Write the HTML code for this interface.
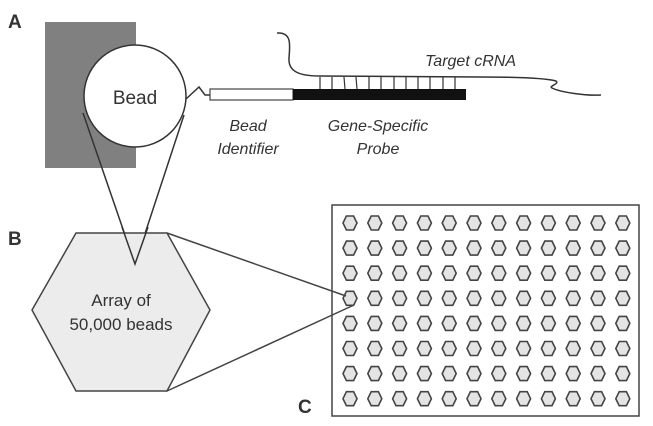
<!DOCTYPE html>
<html><head><meta charset="utf-8"><style>
html,body{margin:0;padding:0;background:#fff;}
svg{display:block;}
text{font-family:"Liberation Sans",Arial,sans-serif;fill:#333;}
</style></head><body>
<svg width="653" height="426" viewBox="0 0 653 426" xmlns="http://www.w3.org/2000/svg" xmlns:xlink="http://www.w3.org/1999/xlink">
<defs>
<polygon id="h" points="-7,0 -3.6,-7 3.6,-7 7,0 3.6,7 -3.6,7" fill="#e4e4e4" stroke="#444" stroke-width="1.6"/>
<g id="row">
<use xlink:href="#h" href="#h" x="350" y="0"/>
<use xlink:href="#h" href="#h" x="374.8" y="0"/>
<use xlink:href="#h" href="#h" x="399.6" y="0"/>
<use xlink:href="#h" href="#h" x="424.4" y="0"/>
<use xlink:href="#h" href="#h" x="449.2" y="0"/>
<use xlink:href="#h" href="#h" x="474" y="0"/>
<use xlink:href="#h" href="#h" x="498.8" y="0"/>
<use xlink:href="#h" href="#h" x="523.6" y="0"/>
<use xlink:href="#h" href="#h" x="548.4" y="0"/>
<use xlink:href="#h" href="#h" x="573.2" y="0"/>
<use xlink:href="#h" href="#h" x="598" y="0"/>
<use xlink:href="#h" href="#h" x="622.8" y="0"/>
</g>
</defs>
<rect width="653" height="426" fill="#fff"/>
<text x="8" y="28" font-size="19" font-weight="bold" fill="#222">A</text>
<text x="8" y="245" font-size="19" font-weight="bold" fill="#222">B</text>
<text x="298" y="413" font-size="19" font-weight="bold" fill="#222">C</text>
<rect x="45" y="22" width="91" height="146" fill="#808080"/>
<line x1="83" y1="113" x2="135" y2="264" stroke="#333" stroke-width="1.5"/>
<line x1="184" y1="115" x2="135" y2="264" stroke="#333" stroke-width="1.5"/>
<circle cx="135" cy="96" r="51" fill="#fff" stroke="#333" stroke-width="1.5"/>
<text x="135" y="104" font-size="19" text-anchor="middle" fill="#222">Bead</text>
<polyline points="186,99 199,87 205,95 210,95" fill="none" stroke="#333" stroke-width="1.5"/>
<rect x="210" y="89" width="83" height="11" fill="#fff" stroke="#444" stroke-width="1.2"/>
<rect x="293" y="89" width="173" height="11" fill="#111"/>
<g stroke="#333" stroke-width="1.2">
<line x1="320" y1="77" x2="320" y2="89"/><line x1="332" y1="77" x2="332" y2="89"/><line x1="344" y1="77" x2="345" y2="89"/><line x1="356" y1="77" x2="357" y2="89"/><line x1="369" y1="77" x2="369" y2="89"/><line x1="381" y1="77" x2="381" y2="89"/><line x1="394" y1="77" x2="394" y2="89"/><line x1="406" y1="77" x2="406" y2="89"/><line x1="418" y1="77" x2="418" y2="89"/><line x1="430" y1="77" x2="430" y2="89"/><line x1="443" y1="77" x2="443" y2="89"/><line x1="455" y1="77" x2="455" y2="89"/>
</g>
<path d="M277,33 C292,32 290,45 289,58 C288,72 300,76 320,76 L480,77 C520,77 545,78 556,81 C560,84 548,86 552,88 C560,92 585,96 601,95" fill="none" stroke="#333" stroke-width="1.5"/>
<text x="425" y="66" font-size="16" font-style="italic">Target cRNA</text>
<text x="248" y="131" font-size="16" font-style="italic" text-anchor="middle">Bead</text>
<text x="248" y="154" font-size="16" font-style="italic" text-anchor="middle">Identifier</text>
<text x="378" y="131" font-size="16" font-style="italic" text-anchor="middle">Gene-Specific</text>
<text x="378" y="154" font-size="16" font-style="italic" text-anchor="middle">Probe</text>
<polygon points="32,310 76,233 167,233 210,310 167,391 76,391" fill="#ececec" stroke="#444" stroke-width="1.5"/>
<polyline points="122,227 135,264 148,227" fill="none" stroke="#333" stroke-width="1.5"/>
<text x="121" y="306" font-size="17" text-anchor="middle">Array of</text>
<text x="121" y="330" font-size="17" text-anchor="middle">50,000 beads</text>
<rect x="332" y="205" width="307" height="211" fill="#fff" stroke="#444" stroke-width="1.5"/>
<use xlink:href="#row" href="#row" x="0" y="223"/>
<use xlink:href="#row" href="#row" x="0" y="248.1"/>
<use xlink:href="#row" href="#row" x="0" y="273.2"/>
<use xlink:href="#row" href="#row" x="0" y="298.3"/>
<use xlink:href="#row" href="#row" x="0" y="323.4"/>
<use xlink:href="#row" href="#row" x="0" y="348.5"/>
<use xlink:href="#row" href="#row" x="0" y="373.6"/>
<use xlink:href="#row" href="#row" x="0" y="398.7"/>
<line x1="167" y1="233" x2="346" y2="296" stroke="#444" stroke-width="1.5"/>
<line x1="167" y1="391" x2="354" y2="305" stroke="#444" stroke-width="1.5"/>
</svg>
</body></html>
